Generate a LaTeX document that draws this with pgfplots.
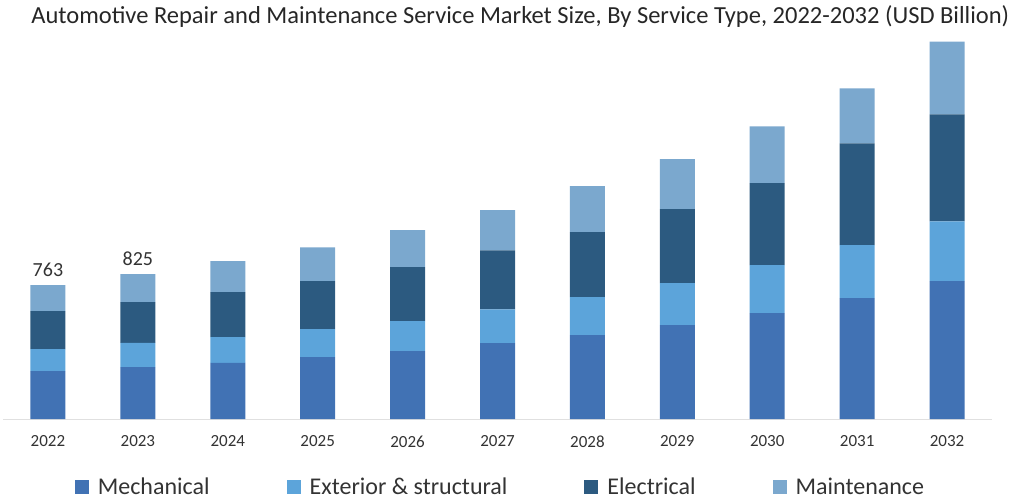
\documentclass[border=0pt]{standalone}
\usepackage{pgfplots}
\pgfplotsset{compat=1.18}
\usepackage{fontspec}
\setmainfont{Carlito}
\definecolor{mech}{HTML}{4172B4}
\definecolor{ext}{HTML}{5CA4DA}
\definecolor{elec}{HTML}{2C5A80}
\definecolor{maint}{HTML}{7BA8CE}
\definecolor{txt}{HTML}{333333}
\begin{document}
\begin{tikzpicture}[x=1pt,y=1pt]
\useasboundingbox (-3,-80) rectangle (1012,419);
\begin{axis}[
  at={(0,0)}, anchor=south west,
  scale only axis, width=989pt, height=381pt,
  xmin=-0.5, xmax=10.5, ymin=0, ymax=2170,
  ybar stacked, bar width=35pt,
  axis x line*=bottom, axis y line=none,
  x axis line style={draw=black!12, line width=0.8pt},
  xtick={0,...,10},
  xticklabels={2022,2023,2024,2025,2026,2027,2028,2029,2030,2031,2032},
  major tick length=0pt,
  xticklabel style={font=\fontsize{17}{19}\selectfont, text=txt, yshift=-13pt},
  ytick=\empty,
  clip=false,
  legend columns=4,
  legend style={draw=none, fill=none, at={(0.503,-0.178)}, anchor=center,
    font=\fontsize{24}{26}\selectfont, text=txt,
    /tikz/every odd column/.append style={column sep=7pt},
    /tikz/every even column/.append style={column sep=75pt}},
  legend image code/.code={\fill[#1] (0pt,-7pt) rectangle (14pt,7pt);},
]
\addplot[fill=mech, draw=none] coordinates {(0,273) (1,296) (2,319) (3,353) (4,387) (5,432) (6,478) (7,535) (8,603) (9,688) (10,785)};
\addplot[fill=ext, draw=none] coordinates {(0,125) (1,137) (2,148) (3,159) (4,171) (5,193) (6,216) (7,239) (8,273) (9,302) (10,341)};
\addplot[fill=elec, draw=none] coordinates {(0,216) (1,233) (2,256) (3,273) (4,307) (5,336) (6,370) (7,421) (8,467) (9,580) (10,609)};
\addplot[fill=maint, draw=none] coordinates {(0,149) (1,159) (2,176) (3,193) (4,211) (5,228) (6,262) (7,285) (8,324) (9,313) (10,415)};
\legend{Mechanical, Exterior \& structural, Electrical, Maintenance}
\node[anchor=south, font=\fontsize{20}{22}\selectfont, text=txt, inner sep=0pt] at (axis cs:0,763) [yshift=8pt] {763};
\node[anchor=south, font=\fontsize{20}{22}\selectfont, text=txt, inner sep=0pt] at (axis cs:1,825) [yshift=8pt] {825};
\node[font=\fontsize{24.5}{27}\selectfont, text=black!85, inner sep=0pt] at (rel axis cs:0.523,1.057) {Automotive Repair and Maintenance Service Market Size, By Service Type, 2022-2032 (USD Billion)};
\end{axis}
\end{tikzpicture}
\end{document}
